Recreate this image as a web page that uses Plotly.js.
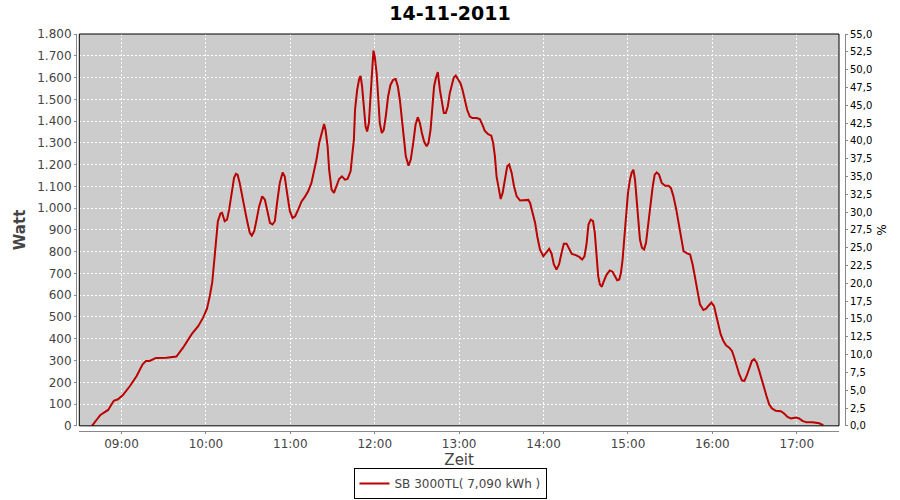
<!DOCTYPE html>
<html><head><meta charset="utf-8">
<script src="https://cdn.plot.ly/plotly-3.0.1.min.js"></script>
<style>html,body{margin:0;padding:0;background:#fff}</style>
</head><body><div id="chart" style="width:900px;height:500px"></div>
<script>
const chartTitle = "14-11-2011";
const day = "2011-11-14";
const seriesName = "SB 3000TL( 7,090 kWh )";
const times = [
"08:39:00","08:42:00","08:45:00","08:47:30","08:50:30","08:54:30","08:57:30","09:01:00","09:06:00","09:10:45",
"09:15:00","09:17:20","09:20:00","09:24:30","09:32:00","09:39:00","09:43:45","09:49:45","09:54:30","09:58:00",
"10:00:45","10:02:45","10:04:30","10:05:40","10:07:00","10:08:30","10:10:20","10:11:30","10:13:20","10:15:00",
"10:16:30","10:18:10","10:20:00","10:21:20","10:22:30","10:24:00","10:26:00","10:27:40","10:29:20","10:31:10",
"10:32:35","10:34:20","10:36:00","10:37:50","10:40:00","10:41:55","10:43:30","10:45:30","10:47:20","10:49:00",
"10:50:35","10:52:30","10:54:30","10:56:00","10:57:40","10:59:40","11:01:35","11:03:25","11:05:35","11:08:00",
"11:10:20","11:12:40","11:15:00","11:16:40","11:18:35","11:20:30","11:23:00","11:24:00","11:25:00","11:26:30",
"11:27:35","11:29:20","11:31:00","11:32:50","11:34:40","11:36:40","11:38:50","11:40:40","11:42:50","11:44:10",
"11:45:10","11:46:00","11:47:30","11:48:55","11:49:55","11:51:00","11:52:20","11:53:30","11:54:35","11:55:50",
"11:57:00","11:58:10","11:59:05","12:00:00","12:01:20","12:02:25","12:03:35","12:05:00","12:06:25","12:07:50",
"12:09:30","12:11:10","12:13:00","12:14:50","12:16:25","12:17:50","12:19:20","12:20:40","12:22:05","12:24:00",
"12:25:35","12:27:20","12:29:00","12:30:35","12:32:05","12:33:30","12:35:05","12:36:50","12:38:10","12:39:40",
"12:40:50","12:42:10","12:43:25","12:44:50","12:46:20","12:47:40","12:49:05","12:50:30","12:51:55","12:53:20",
"12:54:50","12:56:10","12:57:35","12:59:20","13:00:55","13:02:25","13:04:00","13:05:40","13:07:35","13:09:30",
"13:12:20","13:14:40","13:16:35","13:18:10","13:20:35","13:22:50","13:24:10","13:25:25","13:26:35","13:28:00",
"13:29:30","13:30:55","13:32:35","13:34:10","13:35:35","13:37:20","13:39:00","13:40:55","13:43:20","13:46:50",
"13:49:10","13:50:25","13:52:00","13:54:00","13:55:30","13:57:25","13:59:50","14:02:05","14:04:00","14:05:40",
"14:07:20","14:09:10","14:11:00","14:12:50","14:14:25","14:16:20","14:18:10","14:20:05","14:22:55","14:25:20",
"14:27:25","14:29:05","14:30:30","14:31:55","14:33:30","14:35:10","14:36:25","14:37:35","14:38:50","14:40:00",
"14:41:25","14:42:50","14:44:50","14:47:05","14:49:00","14:50:40","14:52:20","14:53:50","14:55:00","14:56:10",
"14:57:25","14:58:35","15:00:00","15:01:25","15:02:35","15:03:50","15:05:00","15:06:10","15:07:20","15:08:30",
"15:09:55","15:11:25","15:12:50","15:14:25","15:16:05","15:17:35","15:19:00","15:20:25","15:22:05","15:24:00",
"15:26:25","15:28:50","15:30:30","15:32:20","15:34:20","15:35:55","15:37:35","15:39:30","15:42:00","15:44:10",
"15:46:00","15:47:55","15:49:30","15:51:10","15:53:35","15:55:30","15:57:25","15:59:20","16:01:10","16:02:35",
"16:04:20","16:05:55","16:07:50","16:09:40","16:12:00","16:13:55","16:15:35","16:17:10","16:19:05","16:21:00",
"16:22:40","16:24:20","16:26:10","16:28:05","16:29:40","16:31:25","16:33:20","16:35:10","16:36:50","16:38:25",
"16:40:20","16:42:20","16:45:05","16:48:40","16:51:00","16:53:25","16:55:50","16:59:20","17:01:40","17:04:00",
"17:06:55","17:11:10","17:15:55","17:18:50"
];
const watt = [
0,27,50,61,73,115,122,141,183,229,
283,298,298,312,313,318,359,420,458,497,
538,596,660,741,825,940,975,978,940,947,
993,1070,1139,1158,1154,1116,1039,993,940,887,
874,894,947,1008,1054,1039,993,932,925,940,
1024,1116,1164,1146,1070,986,955,963,993,1031,
1052,1077,1116,1162,1223,1299,1370,1387,1360,1284,
1177,1085,1070,1100,1134,1146,1131,1134,1169,1253,
1314,1452,1543,1593,1608,1559,1467,1375,1352,1391,
1513,1635,1724,1696,1620,1513,1391,1345,1360,1421,
1513,1566,1589,1594,1559,1498,1406,1314,1238,1195,
1223,1299,1383,1418,1391,1345,1306,1284,1299,1360,
1467,1559,1597,1625,1543,1490,1437,1437,1467,1528,
1574,1600,1609,1593,1574,1543,1490,1452,1421,1414,
1414,1409,1383,1356,1340,1333,1299,1238,1146,1085,
1042,1070,1139,1192,1200,1162,1100,1054,1035,1035,
1038,1024,986,932,871,810,779,795,813,792,
741,718,741,795,837,837,810,790,784,776,
764,779,833,925,947,940,887,779,688,650,
639,665,695,714,708,688,669,672,703,764,
856,978,1070,1131,1162,1177,1131,1039,932,856,
818,810,841,932,1024,1100,1154,1164,1154,1116,
1103,1103,1093,1054,993,932,856,802,792,787,
740,672,611,558,532,538,553,566,550,512,
466,420,390,370,359,344,313,275,237,209,
206,229,268,298,306,291,252,206,168,138,
99,80,69,67,57,41,34,38,34,23,
16,16,12,3
];
const xRange = ["08:30","17:30"];
const wattRange = [0, 1800];
const pctRange = [0, 55];

const xs = times.map(t => day + " " + t);
const font = "DejaVu Sans, Verdana, sans-serif";
const grey = "#444444";

const traces = [
  {x: xs, y: watt, type: "scatter", mode: "lines", name: seriesName,
   line: {color: "#bb0000", width: 2}, hoverinfo: "skip"},
  {x: [], y: [], type: "scatter", mode: "lines", yaxis: "y2", showlegend: false, hoverinfo: "skip"}
];

const layout = {
  width: 900, height: 500,
  paper_bgcolor: "#ffffff", plot_bgcolor: "#cccccc",
  separators: ",.",
  margin: {l: 76, r: 55, t: 34, b: 69, pad: 0, autoexpand: false},
  showlegend: true,
  title: {text: chartTitle, x: 0.5, xref: "container", xanchor: "center",
          y: 1 - 13/500, yref: "container", yanchor: "middle",
          font: {family: font, size: 19, color: "#000000", weight: "bold"}},
  xaxis: {
    type: "date", domain: [0.0043, 0.9922], anchor: "free", position: 0,
    range: xRange.map(t => day + " " + t), automargin: false,
    dtick: 3600000, tick0: day + " 09:00", tickformat: "%H:%M",
    showline: true, linecolor: "#888888", linewidth: 1,
    ticks: "outside", ticklen: 2, tickcolor: "#888888",
    tickfont: {family: font, size: 12, color: grey},
    showgrid: true, gridcolor: "#ffffff", griddash: "2px,2px", gridwidth: 1,
    zeroline: false,
    title: {text: "Zeit", standoff: 4, font: {family: font, size: 15, color: grey}}
  },
  yaxis: {
    domain: [0.013, 1], anchor: "free", position: 0, automargin: false,
    range: wattRange, dtick: 100, tickformat: ",d",
    showline: true, linecolor: "#888888", linewidth: 1,
    ticks: "outside", ticklen: 2, tickcolor: "#888888",
    tickfont: {family: font, size: 12, color: grey},
    showgrid: true, gridcolor: "#ffffff", griddash: "2px,2px", gridwidth: 1,
    zeroline: false,
    title: {text: "Watt", standoff: 6, font: {family: font, size: 15, color: grey, weight: "bold"}}
  },
  yaxis2: {
    overlaying: "y", side: "right", anchor: "free", position: 1, automargin: false,
    range: pctRange, dtick: 2.5, tickformat: ".1f",
    showline: true, linecolor: "#888888", linewidth: 1,
    ticks: "outside", ticklen: 2, tickcolor: "#888888",
    tickfont: {family: font, size: 10, color: "#000000"},
    showgrid: false, zeroline: false,
    title: {text: "%", standoff: 6, font: {family: font, size: 12, color: "#000000"}}
  },
  legend: {
    orientation: "h", x: (450 - 76) / 769, xanchor: "center",
    y: (431 - 499) / 397, yanchor: "bottom",
    bordercolor: "#000000", borderwidth: 1, bgcolor: "#ffffff",
    font: {family: font, size: 12, color: grey},
    itemwidth: 30, tracegroupgap: 0
  },
  shapes: [
    {type: "rect", xref: "x domain", yref: "y domain", x0: 0, x1: 1, y0: 0, y1: 1,
     line: {color: "#000000", width: 1}, layer: "above"}
  ]
};

Plotly.newPlot("chart", traces, layout, {staticPlot: true, displayModeBar: false});
</script>
</body></html>
